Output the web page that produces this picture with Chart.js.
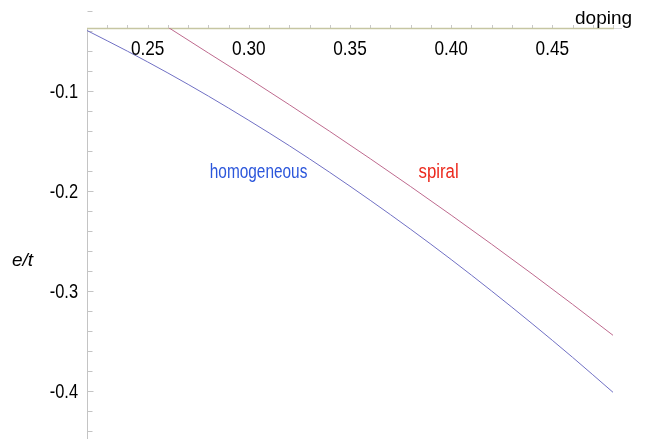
<!DOCTYPE html>
<html>
<head>
<meta charset="utf-8">
<script src="https://cdn.jsdelivr.net/npm/chart.js@4"></script>
<style>
  html, body { margin: 0; padding: 0; background: #ffffff; }
  #wrap { width: 649px; height: 439px; position: relative; }
</style>
</head>
<body>
<div id="wrap"><canvas id="chart"></canvas></div>
<script>
// Energy per site e/t versus doping for the two phases
const dopingHom = [0.22, 0.24, 0.26, 0.28, 0.30, 0.32, 0.34, 0.36, 0.38, 0.40, 0.42, 0.44, 0.46, 0.48];
const energyHom = [-0.0395, -0.0602, -0.0820, -0.1051, -0.1294, -0.1547, -0.1814, -0.2093, -0.2383, -0.2685, -0.3000, -0.3326, -0.3663, -0.4013];

const dopingSpiral = [0.26, 0.28, 0.30, 0.32, 0.34, 0.36, 0.38, 0.40, 0.42, 0.44, 0.46, 0.48];
const energySpiral = [-0.0362, -0.0620, -0.0875, -0.1137, -0.1404, -0.1677, -0.1956, -0.2241, -0.2532, -0.2829, -0.3133, -0.3443];

const xTicks = [0.25, 0.30, 0.35, 0.40, 0.45];
const xTickLabels = ['0.25', '0.30', '0.35', '0.40', '0.45'];
const yTicks = [-0.1, -0.2, -0.3, -0.4];
const yTickLabels = ['-0.1', '-0.2', '-0.3', '-0.4'];

const X_MIN = 0.22, X_MAX = 0.48;
const Y_MIN = -0.448, Y_MAX = -0.037;

const NARROW = 0.82; // horizontal condensing for the narrow label face

function drawText(ctx, text, x, y, opts) {
  ctx.save();
  ctx.font = opts.font;
  ctx.fillStyle = opts.color || '#000';
  ctx.textBaseline = opts.baseline || 'alphabetic';
  const sx = opts.squeeze || 1;
  const w = ctx.measureText(text).width * sx;
  let left = x;
  if (opts.align === 'center') left = x - w / 2;
  else if (opts.align === 'right') left = x - w;
  ctx.translate(left, y);
  ctx.scale(sx, 1);
  ctx.textAlign = 'left';
  ctx.fillText(text, 0, 0);
  ctx.restore();
}

// Axes crossing at the plot corner, with inward/upward minor ticks
const crossedAxes = {
  id: 'crossedAxes',
  beforeDatasetsDraw(chart) {
    const { ctx, chartArea: a, scales: { x, y } } = chart;
    ctx.save();

    // vertical axis
    ctx.strokeStyle = '#c4c4c4';
    ctx.lineWidth = 1;
    ctx.beginPath();
    const ax = Math.round(a.left) + 0.5;
    ctx.moveTo(ax, a.top);
    ctx.lineTo(ax, a.bottom);
    for (let k = 2; k <= 44; k += 2) {
      const py = Math.round(y.getPixelForValue(-k / 100)) + 0.5;
      const len = (k % 10 === 0) ? 6 : 5;
      ctx.moveTo(ax, py);
      ctx.lineTo(ax + len, py);
    }
    ctx.stroke();

    // horizontal axis ticks (pointing up)
    const ay = Math.round(y.getPixelForValue(Y_MAX));
    ctx.strokeStyle = '#c8c8c8';
    ctx.beginPath();
    for (let k = 23; k <= 48; k++) {
      const px = Math.round(x.getPixelForValue(k / 100)) + 0.5;
      ctx.moveTo(px, ay);
      ctx.lineTo(px, ay - 3);
    }
    ctx.stroke();

    // horizontal axis line
    ctx.strokeStyle = '#c6c6a2';
    ctx.lineWidth = 1.5;
    ctx.beginPath();
    ctx.moveTo(a.left, ay + 0.5);
    ctx.lineTo(a.right + 1, ay + 0.5);
    ctx.stroke();
    ctx.strokeStyle = '#dcdcdc';
    ctx.lineWidth = 1;
    ctx.beginPath();
    ctx.moveTo(a.right + 1, ay + 0.5);
    ctx.lineTo(a.right + 9, ay + 0.5);
    ctx.stroke();
    ctx.restore();
  },
  afterDraw(chart) {
    const { ctx, scales: { x, y } } = chart;

    xTicks.forEach((v, i) => {
      drawText(ctx, xTickLabels[i], x.getPixelForValue(v), 55,
        { font: '21px "Liberation Sans", Arial, sans-serif', align: 'center', squeeze: NARROW });
    });
    yTicks.forEach((v, i) => {
      drawText(ctx, yTickLabels[i], 78, y.getPixelForValue(v) + 7,
        { font: '20px "Liberation Sans", Arial, sans-serif', align: 'right', squeeze: NARROW });
    });

    drawText(ctx, 'doping', 575, 23.5,
      { font: '19px "Liberation Sans", Arial, sans-serif', align: 'left' });
    drawText(ctx, 'e/t', 12, 266,
      { font: 'italic 19px "Liberation Sans", Arial, sans-serif', align: 'left' });

    drawText(ctx, 'homogeneous', x.getPixelForValue(0.3048), y.getPixelForValue(-0.1865),
      { font: '20px "Liberation Sans", Arial, sans-serif', align: 'center', squeeze: 0.77, color: '#2b56db' });
    drawText(ctx, 'spiral', x.getPixelForValue(0.3938), y.getPixelForValue(-0.1865),
      { font: '20px "Liberation Sans", Arial, sans-serif', align: 'center', squeeze: 0.84, color: '#ec2a1e' });
  }
};

new Chart(document.getElementById('chart'), {
  type: 'line',
  data: {
    datasets: [
      {
        label: 'homogeneous',
        data: dopingHom.map((d, i) => ({ x: d, y: energyHom[i] })),
        borderColor: 'rgb(112,112,196)',
        borderWidth: 1,
        pointRadius: 0,
        cubicInterpolationMode: 'monotone',
        fill: false
      },
      {
        label: 'spiral',
        data: dopingSpiral.map((d, i) => ({ x: d, y: energySpiral[i] })),
        borderColor: 'rgb(190,106,142)',
        borderWidth: 1,
        pointRadius: 0,
        cubicInterpolationMode: 'monotone',
        fill: false
      }
    ]
  },
  options: {
    responsive: true,
    maintainAspectRatio: false,
    animation: false,
    devicePixelRatio: 1,
    layout: { padding: { left: 87, right: 36, top: 28, bottom: 0 } },
    plugins: { legend: { display: false }, tooltip: { enabled: false } },
    scales: {
      x: { type: 'linear', min: X_MIN, max: X_MAX, display: false },
      y: { type: 'linear', min: Y_MIN, max: Y_MAX, display: false }
    }
  },
  plugins: [crossedAxes]
});
</script>
</body>
</html>
